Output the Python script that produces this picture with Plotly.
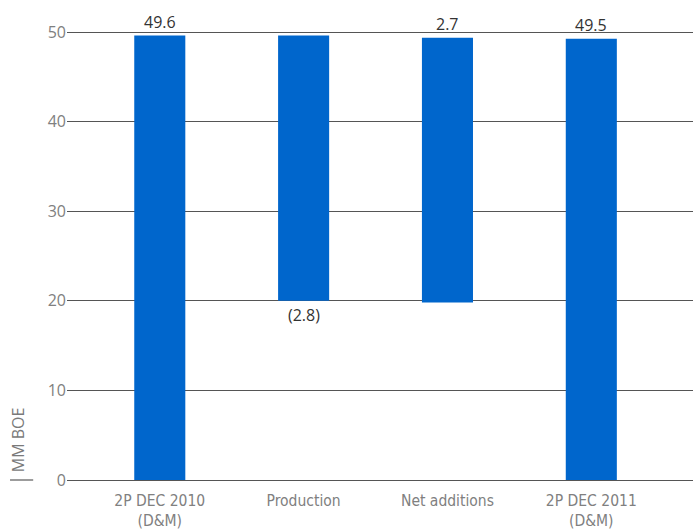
import plotly.graph_objects as go

categories = ["2P DEC 2010<br>(D&M)", "Production", "Net additions", "2P DEC 2011<br>(D&M)"]
bar_top = [49.6, 49.6, 49.35, 49.25]
bar_base = [0, 20.0, 19.8, 0]
value_labels = ["49.6", "(2.8)", "2.7", "49.5"]
label_above = [True, False, True, True]
y_ticks = [0, 10, 20, 30, 40, 50]

fig = go.Figure()
fig.add_trace(go.Bar(
    x=categories,
    y=[t - b for t, b in zip(bar_top, bar_base)],
    base=bar_base,
    marker=dict(color="#0066CC", line=dict(width=0)),
    width=0.355,
    hoverinfo="skip",
))

for c, t, b, lab, above in zip(categories, bar_top, bar_base, value_labels, label_above):
    fig.add_annotation(
        x=c, y=t if above else b, text=lab, showarrow=False,
        yanchor="bottom" if above else "top",
        yshift=1 if above else -1,
        font=dict(family="Open Sans", size=16, color="#333333"),
    )

fig.add_annotation(
    xref="paper", yref="paper", x=-0.078, y=0.085, text="MM BOE",
    textangle=-90, showarrow=False, xanchor="center", yanchor="middle",
    font=dict(family="Open Sans", size=16, color="#7a7a7a"),
)
fig.add_shape(type="line", xref="paper", yref="paper", x0=-0.091, x1=-0.054, y0=0, y1=0,
              line=dict(color="#666666", width=1.3))

fig.update_layout(
    width=693, height=530,
    margin=dict(l=67, r=0, t=10, b=50),
    paper_bgcolor="white", plot_bgcolor="white",
    showlegend=False,
    xaxis=dict(
        type="category", range=[-0.645, 3.707],
        showgrid=False, zeroline=False, showline=False, ticks="",
        ticklabelstandoff=9,
        tickfont=dict(family="DejaVu Sans Condensed, Liberation Sans Narrow, Roboto, sans-serif",
                      size=15.5, color="#808080"),
    ),
    yaxis=dict(
        range=[0, 52.46], tickvals=y_ticks,
        showgrid=True, gridcolor="#555555", gridwidth=1.3,
        zeroline=True, zerolinecolor="#555555", zerolinewidth=1.3,
        showline=False, ticks="",
        tickfont=dict(family="Open Sans", size=16, color="#808080"),
    ),
)

fig.write_html("out.html")
